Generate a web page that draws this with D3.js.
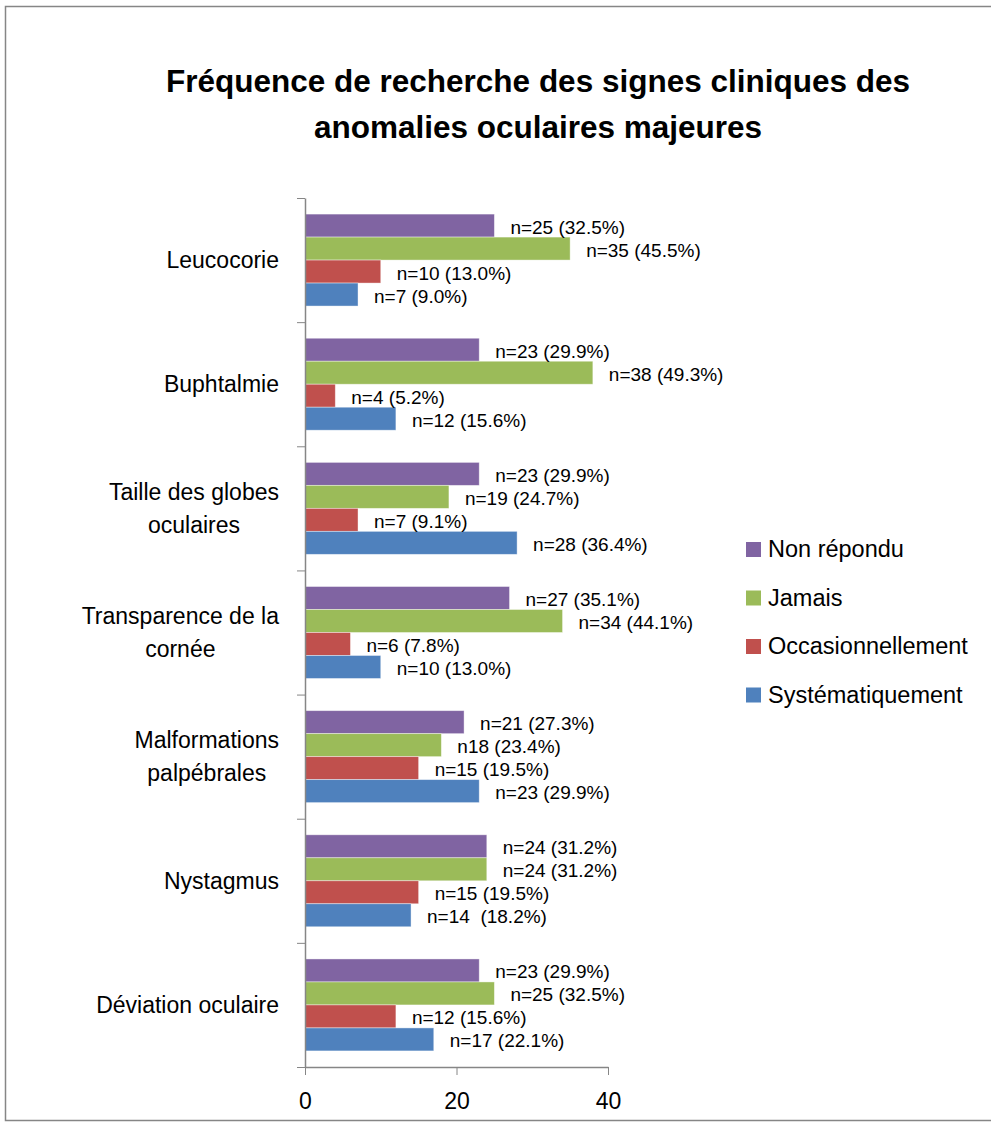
<!DOCTYPE html>
<html>
<head>
<meta charset="utf-8">
<script src="https://cdn.jsdelivr.net/npm/d3@7"></script>
<style>
  body { margin: 0; background: #fff; }
  text { font-family: "Liberation Sans", Arial, sans-serif; fill: #000; }
  .axis path, .axis line { stroke: #868686; }
  .lbl { white-space: pre; }
</style>
</head>
<body>
<script>
// categories (top to bottom), each split in display lines
var categories = [
  ["Leucocorie"],
  ["Buphtalmie"],
  ["Taille des globes", "oculaires"],
  ["Transparence de la", "cornée"],
  ["Malformations", "palpébrales"],
  ["Nystagmus"],
  ["Déviation oculaire"]
];

var seriesNames = ["Non répondu", "Jamais", "Occasionnellement", "Systématiquement"];
var seriesColors = ["#8064A2", "#9BBB59", "#C0504D", "#4F81BD"];

var nonRepondu = [25, 23, 23, 27, 21, 24, 23];
var jamais = [35, 38, 19, 34, 18, 24, 25];
var occasionnellement = [10, 4, 7, 6, 15, 15, 12];
var systematiquement = [7, 12, 28, 10, 23, 14, 17];

var nonRepondu_lbl = ["n=25 (32.5%)", "n=23 (29.9%)", "n=23 (29.9%)", "n=27 (35.1%)", "n=21 (27.3%)", "n=24 (31.2%)", "n=23 (29.9%)"];
var jamais_lbl = ["n=35 (45.5%)", "n=38 (49.3%)", "n=19 (24.7%)", "n=34 (44.1%)", "n18 (23.4%)", "n=24 (31.2%)", "n=25 (32.5%)"];
var occasionnellement_lbl = ["n=10 (13.0%)", "n=4 (5.2%)", "n=7 (9.1%)", "n=6 (7.8%)", "n=15 (19.5%)", "n=15 (19.5%)", "n=12 (15.6%)"];
var systematiquement_lbl = ["n=7 (9.0%)", "n=12 (15.6%)", "n=28 (36.4%)", "n=10 (13.0%)", "n=23 (29.9%)", "n=14  (18.2%)", "n=17 (22.1%)"];

var xTicks = [0, 20, 40];
var titleLines = ["Fréquence de recherche des signes cliniques des", "anomalies oculaires majeures"];

var seriesValues = [nonRepondu, jamais, occasionnellement, systematiquement];
var seriesLabels = [nonRepondu_lbl, jamais_lbl, occasionnellement_lbl, systematiquement_lbl];

var W = 991, H = 1122;
var plot = {left: 305, right: 608, top: 198, bottom: 1067};

var svg = d3.select("body").append("svg")
    .attr("width", W)
    .attr("height", H);

// outer frame
svg.append("rect")
    .attr("x", 5.5).attr("y", 6.5)
    .attr("width", 1000).attr("height", 1114)
    .attr("fill", "#fff")
    .attr("stroke", "#868686")
    .attr("stroke-width", 1.5);

// title
svg.append("text")
    .attr("text-anchor", "middle")
    .style("font-weight", "bold")
    .style("font-size", "31.5px")
    .selectAll("tspan")
    .data(titleLines)
    .enter().append("tspan")
    .attr("x", 538)
    .attr("y", function(d, i) { return 92 + i * 46; })
    .text(function(d) { return d; });

// scales
var catIdx = d3.range(categories.length);
var y = d3.scaleBand().domain(catIdx).range([plot.top, plot.bottom]);
var ySub = d3.scaleBand().domain(d3.range(seriesNames.length))
    .range([0, y.bandwidth()])
    .paddingOuter(0.7);
var x = d3.scaleLinear().domain([0, 40]).range([plot.left, plot.right]);

// bars
var groups = svg.selectAll(".grp")
    .data(catIdx)
    .enter().append("g")
    .attr("class", "grp")
    .attr("transform", function(i) { return "translate(0," + y(i) + ")"; });

groups.each(function(ci) {
    var g = d3.select(this);
    var rows = seriesNames.map(function(s, si) {
        return {si: si, v: seriesValues[si][ci], lbl: seriesLabels[si][ci]};
    });
    g.selectAll("rect")
        .data(rows)
        .enter().append("rect")
        .attr("x", x(0))
        .attr("y", function(d) { return ySub(d.si); })
        .attr("width", function(d) { return x(d.v) - x(0); })
        .attr("height", ySub.bandwidth())
        .attr("fill", function(d) { return seriesColors[d.si]; })
        .attr("stroke", "#fff")
        .attr("stroke-opacity", 0.5)
        .attr("stroke-width", 0.8);
    g.selectAll("text")
        .data(rows)
        .enter().append("text")
        .attr("class", "lbl")
        .attr("x", function(d) { return x(d.v) + 16; })
        .attr("y", function(d) { return ySub(d.si) + ySub.bandwidth() / 2 + 8; })
        .style("font-size", "19px")
        .text(function(d) { return d.lbl; });
});

// y axis: ticks between categories
var yEdge = d3.scaleLinear().domain([0, categories.length]).range([plot.top, plot.bottom]);
svg.append("g")
    .attr("class", "axis")
    .attr("transform", "translate(" + plot.left + ",0)")
    .call(d3.axisLeft(yEdge).tickValues(d3.range(categories.length + 1)).tickSize(8).tickSizeOuter(0).tickFormat(""))
    .select(".domain").attr("stroke-width", 1.5);

// category labels: block right-aligned, lines centred inside it
var catLabels = svg.selectAll(".cat")
    .data(catIdx)
    .enter().append("text")
    .attr("class", "cat")
    .style("font-size", "23px")
    .attr("text-anchor", "middle");

catLabels.each(function(ci) {
    var t = d3.select(this);
    var lines = categories[ci];
    var cy = y(ci) + y.bandwidth() / 2;
    var spans = t.selectAll("tspan").data(lines).enter().append("tspan")
        .attr("y", function(d, i) { return cy + 8 + (i - (lines.length - 1) / 2) * 33; })
        .text(function(d) { return d; });
    var maxW = 0;
    spans.each(function() { maxW = Math.max(maxW, this.getComputedTextLength()); });
    spans.attr("x", 279 - maxW / 2);
});

// x axis
var xAxisG = svg.append("g")
    .attr("class", "axis")
    .attr("transform", "translate(0," + plot.bottom + ")")
    .call(d3.axisBottom(x).tickValues(xTicks).tickSize(8).tickSizeOuter(0).tickPadding(18));
xAxisG.select(".domain").attr("stroke-width", 1.5);
xAxisG.attr("font-family", null).attr("font-size", null);
xAxisG.selectAll("text")
    .style("font-size", "23px")
    .attr("fill", "#000");

// legend
var legend = svg.selectAll(".leg")
    .data(seriesNames)
    .enter().append("g")
    .attr("class", "leg")
    .attr("transform", function(d, i) { return "translate(746," + (549 + i * 48.5) + ")"; });
legend.append("rect")
    .attr("x", 0).attr("y", -7)
    .attr("width", 15).attr("height", 15)
    .attr("fill", function(d, i) { return seriesColors[i]; });
legend.append("text")
    .attr("x", 22).attr("y", 8)
    .style("font-size", "23.5px")
    .text(function(d) { return d; });
</script>
</body>
</html>
